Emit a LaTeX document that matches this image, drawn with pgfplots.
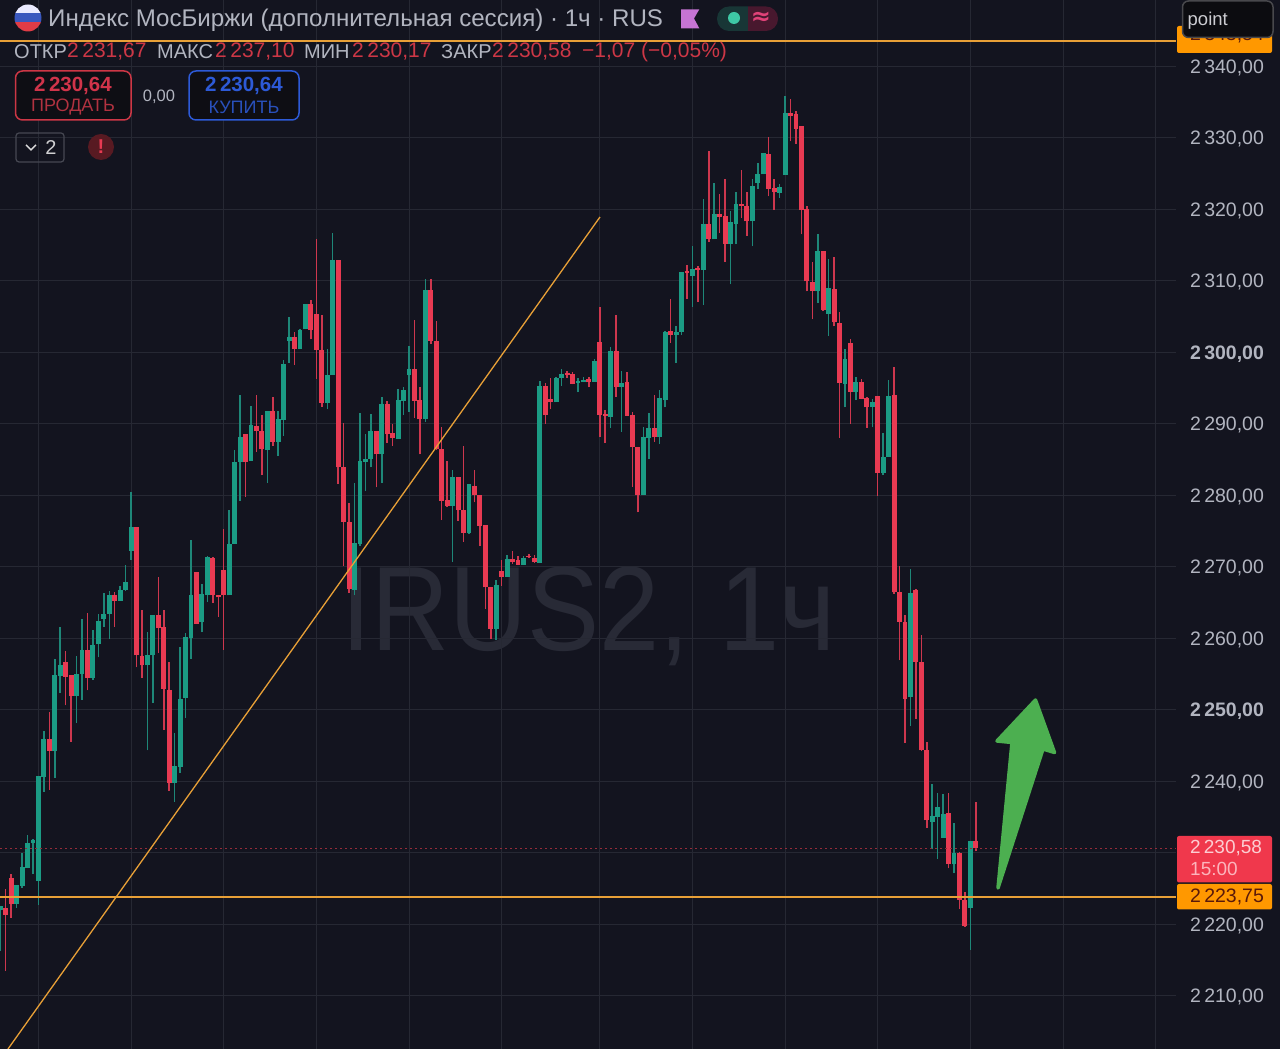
\documentclass[border=0pt]{standalone}
\usepackage{fontspec}
\usepackage{graphicx}
\usepackage{pgfplots}
\usepackage{pgfplotstable}
\pgfplotsset{compat=1.18}
\setmainfont{Liberation Sans}
\newfontfamily\djv{DejaVu Sans}
\definecolor{bg}{RGB}{19,20,31}
\definecolor{gridc}{RGB}{38,40,51}
\definecolor{wm}{RGB}{40,42,54}
\definecolor{cgreen}{RGB}{27,155,132}
\definecolor{cred}{RGB}{232,58,82}
\definecolor{wgreen}{RGB}{30,135,120}
\definecolor{wred}{RGB}{205,55,78}
\definecolor{orangeline}{RGB}{232,160,55}
\definecolor{txt}{RGB}{178,181,192}
\definecolor{ohlc}{RGB}{205,55,70}
\definecolor{bluet}{RGB}{45,90,215}
\definecolor{arrowg}{RGB}{76,175,80}
\definecolor{flagb}{RGB}{58,88,190}
\definecolor{flagr}{RGB}{225,60,70}
\definecolor{kpurple}{RGB}{198,116,212}
\definecolor{pillg}{RGB}{24,54,54}
\definecolor{pillr}{RGB}{72,24,46}
\definecolor{dotg}{RGB}{62,200,165}
\definecolor{pink}{RGB}{224,66,120}
\definecolor{btnbg}{RGB}{14,14,20}
\definecolor{boxb}{RGB}{70,72,82}
\definecolor{alertbg}{RGB}{88,26,34}
\definecolor{tago}{RGB}{255,152,0}
\definecolor{tagt}{RGB}{90,25,10}
\definecolor{ptb}{RGB}{72,72,76}
\definecolor{ptf}{RGB}{12,12,16}
\definecolor{ptt}{RGB}{205,205,210}
\definecolor{tagr}{RGB}{240,56,76}
\definecolor{tagrt}{RGB}{252,205,210}
\definecolor{tagrs}{RGB}{252,180,188}
\newcommand{\fs}[1]{\fontsize{#1}{#1}\selectfont}
\pgfplotstableread{
x lo bot top hi
0 2216.3 2222.0 2222.5 2222.5
3 2222.3 2222.8 2225.4 2225.5
4 2225.1 2225.3 2228.0 2230.0
5 2227.8 2227.8 2231.3 2232.5
6 2227.0 2231.3 2231.7 2231.9
7 2222.7 2226.0 2240.7 2240.7
8 2238.5 2240.6 2245.9 2247.0
10 2240.5 2244.2 2254.9 2257.1
11 2252.3 2254.7 2256.3 2261.6
14 2248.1 2251.9 2255.0 2257.5
15 2251.4 2255.0 2258.3 2262.7
17 2254.2 2254.4 2259.0 2261.2
18 2257.3 2259.2 2262.4 2263.4
19 2261.6 2262.7 2263.4 2266.3
20 2259.9 2263.4 2266.1 2266.6
22 2265.2 2265.2 2266.7 2267.3
23 2266.6 2266.7 2267.8 2270.3
24 2271.0 2272.2 2275.5 2280.4
27 2244.3 2256.2 2257.6 2260.8
28 2250.9 2257.6 2263.2 2263.2
32 2237.1 2239.7 2242.1 2246.7
33 2241.2 2242.0 2251.5 2258.7
34 2248.8 2251.6 2260.1 2260.7
35 2257.1 2260.0 2266.0 2273.7
37 2260.8 2262.2 2266.2 2267.6
38 2265.1 2266.0 2271.3 2271.5
42 2266.0 2266.0 2273.2 2277.9
43 2273.2 2273.2 2284.7 2286.3
44 2279.2 2284.7 2288.2 2294.0
46 2284.8 2284.8 2289.8 2292.5
49 2281.7 2286.3 2291.8 2291.8
51 2285.5 2287.5 2290.6 2291.8
52 2288.3 2290.5 2298.4 2298.9
53 2298.5 2301.6 2302.1 2304.9
55 2300.4 2300.4 2303.1 2303.3
56 2303.2 2303.2 2306.7 2306.7
60 2292.0 2292.9 2296.8 2300.4
61 2296.8 2296.8 2312.9 2316.7
65 2266.0 2266.8 2273.3 2281.7
66 2272.9 2273.2 2284.8 2291.5
67 2280.6 2284.7 2285.1 2288.6
68 2283.9 2285.0 2289.0 2291.4
70 2281.7 2285.7 2292.7 2293.7
73 2287.9 2287.9 2293.3 2294.8
74 2291.2 2293.2 2294.7 2295.2
75 2291.7 2296.8 2297.6 2300.9
78 2290.3 2290.7 2308.7 2310.3
83 2270.7 2278.5 2282.6 2283.5
86 2274.6 2274.7 2281.6 2281.6
91 2259.7 2261.3 2267.5 2268.2
93 2268.6 2268.6 2271.1 2271.7
96 2270.2 2270.3 2271.2 2271.5
99 2270.5 2270.5 2295.3 2296.0
102 2293.0 2293.0 2296.4 2296.5
103 2295.3 2296.4 2297.0 2297.7
106 2294.4 2295.7 2296.0 2296.4
107 2295.8 2295.9 2296.1 2296.6
109 2295.9 2295.9 2298.8 2299.0
112 2289.4 2291.0 2300.2 2300.8
114 2288.9 2295.2 2295.7 2297.4
118 2280.0 2280.0 2288.2 2289.5
119 2285.0 2288.0 2289.4 2291.5
121 2287.2 2288.2 2293.6 2294.7
122 2292.3 2293.3 2302.9 2303.0
124 2298.5 2302.4 2302.9 2303.6
125 2302.4 2302.9 2311.2 2311.2
127 2306.3 2310.7 2311.6 2314.9
129 2306.6 2311.5 2318.0 2321.5
131 2315.8 2315.8 2319.4 2323.7
134 2309.5 2315.2 2318.2 2319.8
135 2315.1 2318.0 2320.7 2322.4
138 2314.8 2318.3 2323.2 2324.3
139 2322.9 2323.7 2325.0 2326.5
140 2324.9 2324.9 2327.9 2327.9
143 2321.6 2322.3 2323.1 2323.6
144 2324.8 2324.8 2333.5 2335.9
150 2306.9 2308.5 2314.2 2316.6
152 2302.3 2305.4 2309.0 2313.0
155 2292.3 2295.6 2299.1 2300.5
157 2293.3 2294.5 2295.8 2296.5
160 2289.5 2292.3 2293.1 2293.5
162 2282.8 2283.1 2285.4 2288.7
163 2285.4 2285.4 2293.9 2296.1
167 2247.7 2251.8 2266.3 2269.7
171 2230.5 2234.3 2235.1 2239.6
172 2229.1 2235.0 2236.4 2238.3
173 2232.1 2232.1 2235.4 2238.2
175 2227.1 2228.4 2229.9 2234.2
178 2216.4 2222.3 2231.6 2231.6
}\greencandles
\pgfplotstableread{
x lo bot top hi
1 2213.4 2221.3 2222.3 2224.9
2 2220.9 2222.8 2226.4 2227.0
9 2238.8 2244.2 2245.9 2249.7
12 2250.6 2254.6 2256.6 2258.2
13 2245.5 2251.9 2254.8 2254.9
16 2252.7 2254.4 2258.4 2263.5
21 2261.6 2265.2 2266.1 2266.4
25 2255.9 2257.6 2275.5 2275.5
26 2254.4 2256.2 2257.5 2264.0
29 2257.9 2261.4 2263.2 2268.5
30 2247.2 2252.9 2261.5 2264.0
31 2238.6 2239.7 2252.7 2256.7
36 2262.0 2262.0 2269.2 2269.3
39 2264.9 2266.0 2271.2 2271.3
40 2263.0 2265.7 2266.0 2266.1
41 2258.4 2266.0 2269.6 2275.3
45 2279.8 2284.7 2288.5 2288.6
47 2286.1 2289.0 2289.7 2294.0
48 2282.8 2286.4 2289.0 2291.2
50 2286.9 2287.5 2291.8 2293.7
54 2298.2 2300.4 2302.1 2302.9
57 2301.8 2303.1 2306.7 2307.3
58 2296.3 2300.3 2305.4 2315.8
59 2292.4 2292.9 2300.3 2305.2
62 2281.6 2283.9 2312.9 2312.9
63 2270.1 2276.3 2283.9 2290.1
64 2266.3 2266.9 2276.3 2278.9
69 2281.1 2285.7 2289.0 2289.0
71 2287.3 2288.6 2292.7 2293.2
72 2286.9 2288.0 2288.7 2289.9
76 2290.8 2293.2 2297.6 2304.5
77 2285.7 2290.6 2293.3 2295.1
79 2301.2 2301.6 2308.7 2310.3
80 2286.3 2286.5 2301.6 2304.3
81 2276.5 2279.2 2286.5 2289.6
82 2278.4 2278.5 2279.3 2284.8
84 2276.4 2277.9 2282.6 2282.6
85 2273.5 2274.7 2277.9 2286.9
87 2279.0 2280.0 2281.3 2283.5
88 2272.9 2275.7 2280.0 2280.0
89 2264.1 2267.1 2275.8 2275.8
90 2259.9 2261.3 2267.1 2267.1
92 2267.3 2268.6 2269.4 2270.9
94 2270.4 2270.6 2271.1 2272.2
95 2270.2 2270.3 2271.0 2271.5
97 2271.2 2271.3 2271.5 2271.8
98 2270.5 2270.6 2271.2 2271.6
100 2290.0 2291.2 2295.3 2295.7
101 2292.0 2293.0 2293.5 2296.4
104 2296.4 2296.8 2297.1 2297.4
105 2295.5 2295.6 2296.9 2297.3
108 2295.1 2295.8 2296.2 2296.5
110 2288.2 2291.2 2301.4 2306.3
111 2287.3 2291.1 2291.3 2291.9
113 2293.8 2295.2 2300.2 2305.2
115 2291.1 2291.1 2295.8 2297.2
116 2281.2 2286.7 2291.2 2291.7
117 2277.6 2280.0 2286.8 2286.8
120 2287.5 2288.1 2289.4 2294.0
123 2301.3 2302.4 2303.0 2307.5
126 2307.5 2311.1 2311.4 2312.2
128 2307.0 2311.5 2311.8 2312.1
130 2315.4 2315.8 2317.9 2328.2
132 2316.7 2318.9 2319.3 2322.2
133 2312.6 2315.2 2319.0 2324.2
136 2318.8 2320.5 2320.8 2325.5
137 2316.3 2318.3 2320.4 2322.4
141 2321.8 2322.9 2327.8 2330.1
142 2319.9 2322.4 2323.0 2324.3
145 2329.5 2333.1 2333.5 2335.4
146 2329.2 2331.3 2333.3 2333.7
147 2316.5 2319.9 2331.6 2331.6
148 2308.5 2309.9 2320.1 2320.4
149 2304.6 2308.5 2309.8 2312.6
151 2305.7 2305.9 2314.2 2314.2
153 2303.6 2304.2 2308.8 2313.3
154 2288.0 2295.7 2304.1 2305.6
156 2290.0 2294.5 2301.3 2301.9
158 2293.4 2293.5 2295.9 2296.3
159 2289.4 2292.3 2293.6 2293.7
161 2279.9 2283.1 2293.9 2293.9
164 2266.2 2266.4 2294.0 2298.0
165 2256.9 2262.3 2266.4 2270.1
166 2245.3 2251.5 2262.3 2263.3
168 2248.7 2256.7 2266.8 2266.9
169 2244.2 2244.3 2256.7 2260.4
170 2233.5 2234.5 2244.3 2245.5
174 2227.8 2228.4 2235.5 2238.4
176 2222.1 2223.4 2230.0 2230.1
177 2219.6 2219.7 2223.4 2224.5
179 2230.17 2230.58 2231.67 2237.10
}\redcandles
\begin{document}
\begin{tikzpicture}
\useasboundingbox (0,0) rectangle (1280pt,1049pt);
\fill[bg] (0,0) rectangle (1280pt,1049pt);
\begin{scope}[x=1pt,y=-1pt,shift={(0pt,1049pt)}]
\node[text=wm] at (589,616) {\scalebox{0.9}[1]{\fs{120}IRUS2, 1ч}};
\end{scope}
\begin{axis}[
  at={(0,0)},anchor=south west,scale only axis,width=1176pt,height=1049pt,
  xmin=-0.0459,xmax=215.73,ymin=2202.52,ymax=2349.28,
  axis line style={draw=none},major tick length=0pt,
  xtick={7,24,41,58,75,92,110,127,144,161,178,195,212},xticklabels={},
  ytick={2210,2220,2230,2240,2250,2260,2270,2280,2290,2300,2310,2320,2330,2340},
  yticklabels={2\,210{,}00,2\,220{,}00,2\,230{,}00,2\,240{,}00,\textbf{2\,250{,}00},2\,260{,}00,2\,270{,}00,2\,280{,}00,2\,290{,}00,\textbf{2\,300{,}00},2\,310{,}00,2\,320{,}00,2\,330{,}00,2\,340{,}00},
  yticklabel pos=right,
  yticklabel style={anchor=west,inner sep=0pt,xshift=14pt,text=txt,font=\fs{19.5},text height=14pt,text depth=0pt},
  grid=major,grid style={gridc,line width=1pt},
]
\addplot[draw=none,mark=none,forget plot,error bars/.cd,y dir=plus,y explicit,error mark=none,error bar style={wgreen,line width=1.5pt}] table[x=x,y=lo,y error expr=\thisrow{hi}-\thisrow{lo}] {\greencandles};
\addplot[draw=none,mark=none,forget plot,error bars/.cd,y dir=plus,y explicit,error mark=none,error bar style={wred,line width=1.5pt}] table[x=x,y=lo,y error expr=\thisrow{hi}-\thisrow{lo}] {\redcandles};
\addplot[draw=none,mark=none,forget plot,error bars/.cd,y dir=plus,y explicit,error mark=none,error bar style={cgreen,line width=4.9pt}] table[x=x,y=bot,y error expr=\thisrow{top}-\thisrow{bot}] {\greencandles};
\addplot[draw=none,mark=none,forget plot,error bars/.cd,y dir=plus,y explicit,error mark=none,error bar style={cred,line width=4.9pt}] table[x=x,y=bot,y error expr=\thisrow{top}-\thisrow{bot}] {\redcandles};
\addplot[color=ohlc!70!bg,line width=1pt,dash pattern=on 1.6pt off 3.4pt] coordinates {(-0.0459,2230.58) (215.73,2230.58)};
\addplot[orangeline,line width=1.5pt] coordinates {(-0.0459,2223.75) (215.73,2223.75)};
\addplot[orangeline,line width=1.5pt] coordinates {(-0.0459,2343.54) (215.73,2343.54)};
\addplot[orangeline,line width=1.3pt] coordinates {(1.42,2202.52) (110.04,2318.92)};
\end{axis}
\begin{scope}[x=1pt,y=-1pt,shift={(0pt,1049pt)}]
% arrow
\fill[fill=arrowg,draw=arrowg,line width=3.5pt,line join=round]
 (998,888) -- (1012,742.5) -- (997,741) -- (1035.5,700) -- (1054.5,752.5) -- (1043,749) -- cycle;
% header
\begin{scope}
\clip (28,18) circle (13.5);
\fill[white!92!blue] (14,4) rectangle (42,13.5);
\fill[flagb] (14,13.5) rectangle (42,22.5);
\fill[flagr] (14,22.5) rectangle (42,32);
\end{scope}
\node[anchor=west,inner sep=0pt,text=txt] at (48,20.5) {\fs{24.1}Индекс МосБиржи (дополнительная сессия) · 1ч · RUS};
\fill[kpurple] (681,9.3) -- (699.3,9.3) -- (694,18.5) -- (699.3,28.3) -- (681,28.3) -- cycle;
\begin{scope}
\clip[rounded corners=12pt] (717,6.5) rectangle (778,31);
\fill[pillg] (717,6) rectangle (748,32);
\fill[pillr] (748,6) rectangle (778,32);
\end{scope}
\fill[dotg] (734,18) circle (6);
\node[text=pink,inner sep=0pt] at (761,18) {\fs{24}\djv\bfseries ≈};
% OHLC
\node[anchor=west,inner sep=0pt,text=txt] at (14,52) {\fs{20}ОТКР};
\node[anchor=west,inner sep=0pt,text=ohlc] at (67,52) {\fs{21}2\,231,67};
\node[anchor=west,inner sep=0pt,text=txt] at (157,52) {\fs{20}МАКС};
\node[anchor=west,inner sep=0pt,text=ohlc] at (215,52) {\fs{21}2\,237,10};
\node[anchor=west,inner sep=0pt,text=txt] at (304,52) {\fs{20}МИН};
\node[anchor=west,inner sep=0pt,text=ohlc] at (352,52) {\fs{21}2\,230,17};
\node[anchor=west,inner sep=0pt,text=txt] at (441,52) {\fs{20}ЗАКР};
\node[anchor=west,inner sep=0pt,text=ohlc] at (492,52) {\fs{21}2\,230,58};
\node[anchor=west,inner sep=0pt,text=ohlc] at (582,52) {\fs{21}−1,07 (−0,05\%)};
% buttons
\draw[ohlc,line width=1.5pt,fill=btnbg,rounded corners=7pt] (15.5,71) rectangle (131,120);
\node[text=cred!90!black,inner sep=0pt] at (73,86) {\fs{20.5}\bfseries 2\,230,64};
\node[text=ohlc!85!bg,inner sep=0pt] at (73,107) {\fs{18}ПРОДАТЬ};
\node[text=txt,inner sep=0pt] at (159,96.5) {\fs{16.5}0,00};
\draw[bluet,line width=1.5pt,fill=btnbg,rounded corners=7pt] (189,71) rectangle (299,120);
\node[text=bluet,inner sep=0pt] at (244,86) {\fs{20.5}\bfseries 2\,230,64};
\node[text=bluet!85!bg,inner sep=0pt] at (244,107) {\fs{18}КУПИТЬ};
\draw[boxb,line width=1.2pt,rounded corners=3pt] (16,133) rectangle (64,162);
\draw[white!85!bg,line width=1.4pt] (26,145) -- (31,150) -- (36,145);
\node[text=white!80!bg,inner sep=0pt] at (51,148) {\fs{20}2};
\fill[alertbg] (101,147) circle (13);
\node[text=cred,inner sep=0pt] at (101,147) {\fs{20}\bfseries !};
% price tags
\fill[tago,rounded corners=2pt] (1177,26) rectangle (1272,53);
\node[anchor=west,inner sep=0pt,text=tagt] at (1190,35) {\fs{19.5}2\,343,54};
\begin{scope}
\clip (1175,0) rectangle (1280,45);
\draw[ptb,line width=1.5pt,fill=ptf,rounded corners=6pt] (1182.5,1) rectangle (1273,37.5);
\end{scope}
\node[anchor=west,inner sep=0pt,text=ptt] at (1187.5,20.5) {\fs{18.5}point};
\fill[tagr,rounded corners=2pt] (1177,836) rectangle (1272,882.5);
\node[anchor=west,inner sep=0pt,text=tagrt] at (1190,848) {\fs{19}2\,230,58};
\node[anchor=west,inner sep=0pt,text=tagrs] at (1190,868.5) {\fs{19}15:00};
\fill[tago,rounded corners=2pt] (1177,884) rectangle (1272,909.5);
\node[anchor=west,inner sep=0pt,text=tagt] at (1190,897) {\fs{19.5}2\,223,75};
\end{scope}
\end{tikzpicture}
\end{document}
